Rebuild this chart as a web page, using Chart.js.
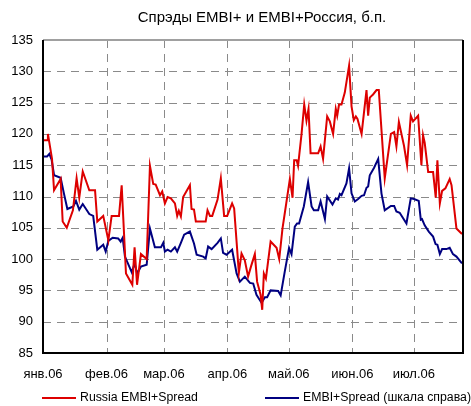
<!DOCTYPE html>
<html>
<head>
<meta charset="utf-8">
<script src="https://cdn.jsdelivr.net/npm/chart.js@4"></script>
<style>
  html, body { margin: 0; padding: 0; background: #fff; }
  #wrap { width: 471px; height: 406px; }
</style>
</head>
<body>
<div id="wrap"><canvas id="spreadChart" width="471" height="406"></canvas></div>
<script>
// x = day of 2006 (0 = 1 Jan), y = spread
const monthDays = [0, 31, 59, 90, 120, 151, 181];
const monthLabels = ['янв.06', 'фев.06', 'мар.06', 'апр.06', 'май.06', 'июн.06', 'июл.06'];
const yTicks = [85, 90, 95, 100, 105, 110, 115, 120, 125, 130, 135];

const redDays = [0,2,2.4,4.4,5.4,8.6,9.6,11.6,14.6,16.4,17.7,19.4,22.6,25.4,26.5,29.4,31.9,33.5,37.1,38.4,40.5,43.6,44.7,45.9,47.8,50.6,52.2,53.8,55,57.1,58.2,59.5,60.8,62.4,64.4,65.5,66.3,67.3,68.4,71.7,72.5,73.7,74.6,79.4,80.3,81.5,82.6,85.2,86.8,88.4,89.9,92.3,93.3,95.6,96.9,98.5,100.1,101.5,103.4,104.5,106.2,107,107.8,108.8,111.1,114,115.3,116.9,118.5,120.5,121.8,122.6,123.8,124.5,126.2,127.5,128.6,129.6,130.6,134.3,135.5,136.7,138.7,140,141.6,142.9,143.6,144.5,145.7,147.3,149.4,150.6,151.7,152.7,153.5,155.5,157.9,158.7,159.5,161.1,162.8,163.9,166.8,169.8,171.4,172.5,173.7,176.2,177.7,179.5,180.6,183.1,184.7,185.5,186.3,188,190.4,191.7,192.5,193.7,194.8,196.4,198.5,199.4,201.8,204.5];
const redSpread = [119,119,120,116,111,112.8,106,105,107.8,112.9,109.8,114,111,111,106,106.9,103,106.9,106.9,111.8,97.7,95.9,101.9,95.9,100.8,100,114.9,112,111.9,110.2,110.8,108.9,109.9,109.7,108.9,106.9,107.7,106.8,109.9,111.8,108,107.9,106,106,107.8,106.9,106.9,109.5,112.9,106.9,106.9,108.9,108.1,97.8,100.9,99.8,97.2,98.8,100.8,96.4,94.3,91.9,97.7,96.9,102.8,101.8,100,104.9,108.4,112.8,109.8,115.8,115.8,114.9,120,124.7,122.1,124,116.9,116.9,118,116,122.8,122,120,124,122.9,124.7,124.7,126.6,130.9,124.4,122.2,122.8,122.4,120,127,122.9,125.8,126.3,127,127,112.9,120,120.3,118,121.9,118.1,115,122.9,122,122.9,115,119.8,118.6,113.9,113.9,109.8,115.8,108.9,110.9,111.3,112.8,111.8,104.9,104];

const blueDays = [0,2,3.1,4.2,5.4,8.6,10.2,11.9,14.8,16.1,17.7,19.4,22.6,24.5,26.5,29.4,30.6,31.9,34,36.7,37.9,38.9,40,43.3,44.7,46,47.8,50.6,52.2,54.6,57.6,58.7,59.5,60.8,62.4,64.4,65.5,67.3,68.9,71.7,73.7,75,78.2,79.4,80.6,82.3,85.2,86.8,87.9,89.6,92.3,94.5,96.1,98.5,101,102.6,104.2,106.7,108.3,109.4,111.1,114.8,116,118,120.1,121.3,122.9,124,125,127.3,129.4,131.1,132.2,134.3,135.5,137.6,138.7,141.3,142.9,144,144.9,145.7,148.1,149.4,150.6,152.2,153.8,155.5,156.7,157.9,158.7,159.5,161.6,163.6,165.2,166.8,169.8,171.4,172.5,174.1,177.4,179.5,181.1,183.4,184.4,185,186.3,188.3,190.4,191.6,192.5,193.7,194.8,196.9,198.5,200.1,201.8,204.5];
const blueSpread = [116.4,116.4,116.8,115.9,113.4,113,110.5,108,108.4,109.3,107.9,108.8,107.2,106.9,101.5,102.3,101.2,102.9,103.4,103.3,102.8,103.4,100.4,97.9,99.3,97.7,98.8,99.1,104.9,101.9,101.9,102.6,101.2,101.5,101.2,101.9,101.2,102.6,103.9,104.4,102.5,100.7,100.4,100.1,102,101.6,102.6,103.3,101,100.7,101.5,97.7,96.4,97.2,96.2,96.1,94.3,93,93.9,93.9,95,94.9,94.2,98,101.8,100.8,105.2,105.7,105.7,108.4,112.3,108.4,107.8,107.8,109.2,106.4,110,108.7,109.7,109.5,110.4,110.2,112.1,114.5,110.5,109.2,109.6,110.1,110.2,111.4,111.6,113.4,114.6,116,110.5,107.8,108.5,108.5,107.6,107.4,105.7,109.7,109.6,109.3,106.3,106.4,105.4,104.4,103.6,102.4,102.3,100.8,101.6,101.6,101.8,100.8,100.4,99.3];

const FONT = "'Liberation Sans', Arial, sans-serif";
const RED = '#dd0000';
const BLUE = '#000080';

function toPoints(xs, ys) {
  return xs.map((x, i) => ({ x: x, y: ys[i] }));
}

// dashed grid, drawn under the lines
const dashedGrid = {
  id: 'dashedGrid',
  beforeDatasetsDraw(chart) {
    const ctx = chart.ctx;
    const a = chart.chartArea;
    const xs = chart.scales.x, ys = chart.scales.y;
    ctx.save();
    ctx.strokeStyle = '#8a8a8a';
    ctx.lineWidth = 1;
    ctx.setLineDash([8, 6]);
    yTicks.forEach(v => {
      const y = Math.round(ys.getPixelForValue(v)) + 0.5;
      ctx.beginPath(); ctx.moveTo(a.left, y); ctx.lineTo(a.right, y); ctx.stroke();
    });
    monthDays.forEach(d => {
      const x = Math.round(xs.getPixelForValue(d)) + 0.5;
      ctx.beginPath(); ctx.moveTo(x, a.top); ctx.lineTo(x, a.bottom); ctx.stroke();
    });
    ctx.restore();
  }
};

// title, frame and legend drawn by hand so they sit where the original has them
const decorations = {
  id: 'decorations',
  afterDraw(chart) {
    const ctx = chart.ctx;
    const a = chart.chartArea;
    ctx.save();
    // frame
    ctx.lineWidth = 2;
    ctx.strokeStyle = '#a0a0a0';
    ctx.beginPath(); ctx.moveTo(a.left, a.top); ctx.lineTo(a.right, a.top); ctx.stroke();
    ctx.strokeStyle = '#000';
    ctx.beginPath();
    ctx.moveTo(a.left, a.top); ctx.lineTo(a.left, a.bottom); ctx.lineTo(a.right, a.bottom); ctx.lineTo(a.right, a.top);
    ctx.stroke();
    // title
    ctx.fillStyle = '#000';
    ctx.font = '15px ' + FONT;
    ctx.textAlign = 'center';
    ctx.textBaseline = 'middle';
    ctx.fillText('Спрэды EMBI+ и EMBI+Россия, б.п.', 262, 18);
    // legend
    ctx.font = '12.3px ' + FONT;
    const items = [
      { x: 42, ds: chart.data.datasets[0] },
      { x: 265, ds: chart.data.datasets[1] }
    ];
    ctx.textAlign = 'left';
    items.forEach(it => {
      ctx.strokeStyle = it.ds.borderColor;
      ctx.lineWidth = 2;
      ctx.beginPath(); ctx.moveTo(it.x, 398); ctx.lineTo(it.x + 34, 398); ctx.stroke();
      ctx.fillStyle = '#000';
      ctx.fillText(it.ds.label, it.x + 38, 398);
    });
    ctx.restore();
  }
};

new Chart(document.getElementById('spreadChart'), {
  type: 'line',
  data: {
    datasets: [{
      label: 'Russia EMBI+Spread',
      data: toPoints(redDays, redSpread),
      borderColor: RED,
      borderWidth: 2,
      pointRadius: 0,
      tension: 0
    }, {
      label: 'EMBI+Spread (шкала справа)',
      data: toPoints(blueDays, blueSpread),
      borderColor: BLUE,
      borderWidth: 2,
      pointRadius: 0,
      tension: 0
    }]
  },
  options: {
    responsive: false,
    animation: false,
    layout: { padding: { left: 0, right: 8, top: 40, bottom: 13 } },
    plugins: {
      legend: { display: false },
      title: { display: false },
      tooltip: { enabled: false }
    },
    scales: {
      x: {
        type: 'linear',
        min: 0,
        max: 205,
        afterBuildTicks(scale) { scale.ticks = monthDays.map(v => ({ value: v })); },
        afterFit(scale) { scale.height = 40; },
        grid: { display: false, drawTicks: false },
        border: { display: false },
        ticks: {
          autoSkip: false,
          maxRotation: 0,
          padding: 14,
          color: '#000',
          font: { family: FONT, size: 13 },
          callback: (v, i) => monthLabels[i]
        }
      },
      y: {
        min: 85,
        max: 135,
        afterFit(scale) { scale.width = 43; },
        grid: { display: false, drawTicks: false },
        border: { display: false },
        ticks: {
          stepSize: 5,
          padding: 10,
          color: '#000',
          font: { family: FONT, size: 13 }
        }
      }
    }
  },
  plugins: [dashedGrid, decorations]
});
</script>
</body>
</html>
